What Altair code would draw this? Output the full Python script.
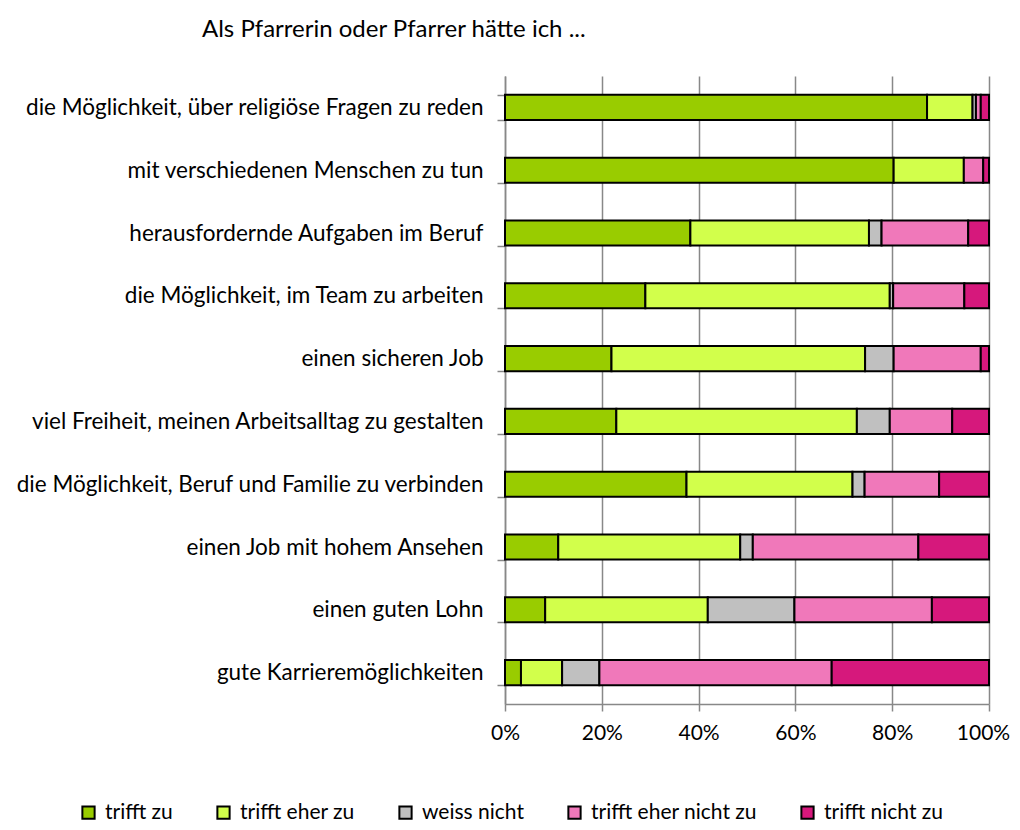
import altair as alt
import pandas as pd

categories = [
    "die Möglichkeit, über religiöse Fragen zu reden",
    "mit verschiedenen Menschen zu tun",
    "herausfordernde Aufgaben im Beruf",
    "die Möglichkeit, im Team zu arbeiten",
    "einen sicheren Job",
    "viel Freiheit, meinen Arbeitsalltag zu gestalten",
    "die Möglichkeit, Beruf und Familie zu verbinden",
    "einen Job mit hohem Ansehen",
    "einen guten Lohn",
    "gute Karrieremöglichkeiten",
]
series = ["trifft zu", "trifft eher zu", "weiss nicht", "trifft eher nicht zu", "trifft nicht zu"]
trifft_zu = [87.2, 80.3, 38.3, 29.0, 22.0, 23.0, 37.5, 11.0, 8.3, 3.3]
trifft_eher_zu = [9.4, 14.5, 36.9, 50.5, 52.4, 49.7, 34.3, 37.6, 33.6, 8.5]
weiss_nicht = [0.7, 0.0, 2.6, 0.7, 5.9, 6.8, 2.5, 2.6, 17.9, 7.7]
trifft_eher_nicht_zu = [1.0, 4.0, 17.9, 14.7, 18.0, 12.9, 15.4, 34.2, 28.4, 48.0]
trifft_nicht_zu = [1.7, 1.2, 4.3, 5.1, 1.7, 7.6, 10.3, 14.6, 11.8, 32.5]
colors = ["#99CC00", "#D2FF4B", "#C0C0C0", "#F078BA", "#D6187C"]
x_ticks = [0, 0.2, 0.4, 0.6, 0.8, 1.0]

values = [trifft_zu, trifft_eher_zu, weiss_nicht, trifft_eher_nicht_zu, trifft_nicht_zu]
rows = []
for si, (s, vals) in enumerate(zip(series, values)):
    for c, v in zip(categories, vals):
        if v > 0:
            rows.append({"cat": c, "series": s, "idx": si, "value": v})
df = pd.DataFrame(rows)

FONT = "Lato"

chart = alt.Chart(df).mark_bar(stroke="black", strokeWidth=2).encode(
    y=alt.Y(
        "cat:N",
        sort=categories,
        scale=alt.Scale(paddingInner=0.6, paddingOuter=0.3),
        axis=alt.Axis(
            title=None, tickBand="extent", tickSize=8, tickColor="#888888",
            tickWidth=1.5, domainColor="#888888", domainWidth=1.5,
            labelPadding=14, labelFontSize=22.5, labelFont=FONT,
            labelColor="black", labelLimit=700,
        ),
    ),
    x=alt.X(
        "value:Q",
        stack="normalize",
        scale=alt.Scale(domain=[0, 1], nice=False),
        axis=alt.Axis(
            title=None, format=".0%", values=x_ticks, grid=True,
            gridColor="#888888", gridWidth=1.5, tickSize=7,
            tickColor="#888888", tickWidth=1.5, domainColor="#888888",
            domainWidth=1.5, labelFlush=False, labelPadding=11,
            labelFontSize=21, labelFont=FONT, labelColor="black",
            labelOffset={"condition": {"test": "datum.value >= 1", "value": -6}, "value": 0},
        ),
    ),
    color=alt.Color(
        "series:N",
        sort=series,
        scale=alt.Scale(domain=series, range=colors),
        legend=alt.Legend(
            title=None, orient="none", direction="horizontal", columns=5,
            legendX=-427, legendY=726, padding=0, symbolType="square",
            symbolSize=150, symbolStrokeColor="black", symbolStrokeWidth=2,
            labelFontSize=21, labelFont=FONT, labelColor="black",
            labelOffset=6, columnPadding=40, labelLimit=400,
        ),
    ),
    order=alt.Order("idx:Q", sort="ascending"),
).properties(
    width=484,
    height=628,
    title=alt.TitleParams(
        "Als Pfarrerin oder Pfarrer hätte ich ...", anchor="start",
        frame="group", dx=-303, offset=23, font=FONT, fontSize=24,
        fontWeight="normal", color="black",
    ),
    autosize=alt.AutoSizeParams(type="none"),
    padding={"left": 497, "top": 68, "right": 23, "bottom": 118},
).configure_view(stroke=None)

chart.save("out.html", embed_options={"renderer": "svg", "actions": False})
